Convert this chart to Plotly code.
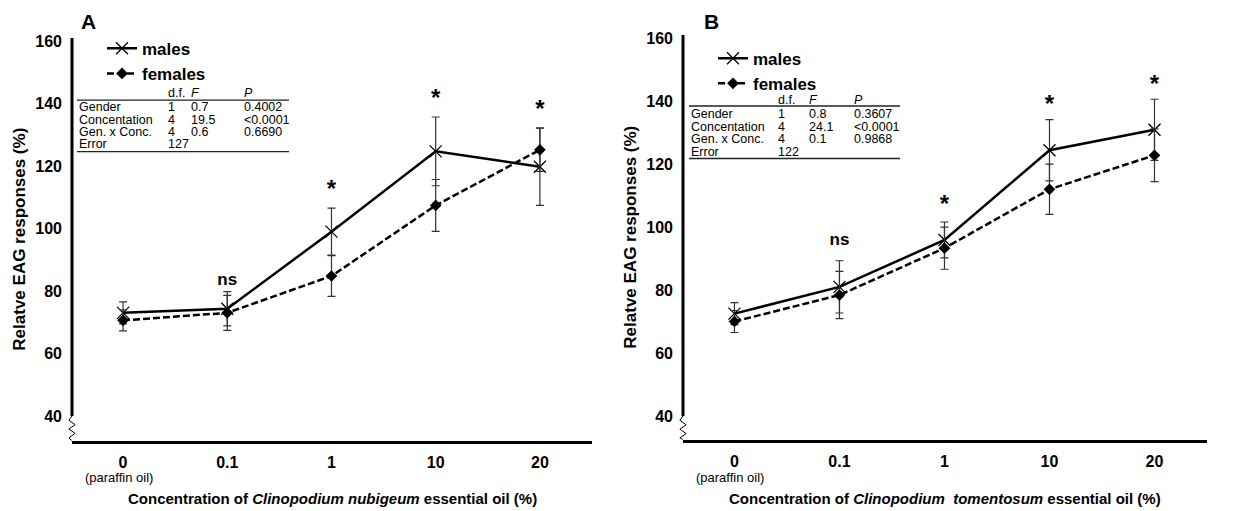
import plotly.graph_objects as go

W, H = 1233, 511

categories = ["0", "0.1", "1", "10", "20"]
cat_idx = [0, 1, 2, 3, 4]
y_ticks = [40, 60, 80, 100, 120, 140, 160]

# Panel A (Clinopodium nubigeum)
males_A = [73.0, 74.3, 99.0, 124.7, 119.8]
males_A_err = [3.5, 5.5, 7.5, 11.0, 12.4]
females_A = [70.6, 73.0, 84.8, 107.4, 125.2]
females_A_err = [3.4, 5.6, 6.5, 8.3, 6.9]
sig_A = ["", "ns", "*", "*", "*"]
sig_A_y = [None, 83.4, 112.0, 141.0, 137.5]

# Panel B (Clinopodium tomentosum)
males_B = [72.5, 81.0, 95.9, 124.4, 130.9]
males_B_err = [3.5, 8.3, 5.7, 9.7, 9.7]
females_B = [70.0, 78.4, 93.3, 112.0, 122.8]
females_B_err = [3.5, 7.5, 6.7, 8.0, 8.4]
sig_B = ["", "ns", "*", "*", "*"]
sig_B_y = [None, 95.5, 106.7, 138.5, 144.7]

# ANOVA tables
tab_rows = ["Gender", "Concentation", "Gen. x Conc.", "Error"]
tab_df_A = ["1", "4", "4", "127"]
tab_F_A = ["0.7", "19.5", "0.6", ""]
tab_P_A = ["0.4002", "<0.0001", "0.6690", ""]
tab_df_B = ["1", "4", "4", "122"]
tab_F_B = ["0.8", "24.1", "0.1", ""]
tab_P_B = ["0.3607", "<0.0001", "0.9868", ""]

FONT = "Liberation Sans, Arial, sans-serif"

fig = go.Figure()

def add_panel(sfx, males, merr, females, ferr, sig, sig_y, legend):
    xa, ya = "x" + sfx, "y" + sfx
    fig.add_trace(go.Scatter(
        x=cat_idx, y=males, mode="lines+markers", name="males",
        xaxis=xa, yaxis=ya, legend=legend,
        line=dict(color="black", width=2.5),
        marker=dict(symbol="x-thin", size=12, line=dict(color="black", width=1.3)),
        error_y=dict(type="data", array=merr, visible=True, color="#333333",
                     thickness=1.2, width=4),
    ))
    fig.add_trace(go.Scatter(
        x=cat_idx, y=females, mode="lines+markers", name="females",
        xaxis=xa, yaxis=ya, legend=legend,
        line=dict(color="black", width=2.5, dash="7px,3px"),
        marker=dict(symbol="diamond", size=9, color="black"),
        error_y=dict(type="data", array=ferr, visible=True, color="#333333",
                     thickness=1.2, width=4),
    ))
    xs = [i for i, s in zip(cat_idx, sig) if s]
    ys = [v for v, s in zip(sig_y, sig) if s]
    ts = [s for s in sig if s]
    sizes = [17 if t == "ns" else 24 for t in ts]
    fig.add_trace(go.Scatter(
        x=xs, y=ys, mode="text", text=["<b>%s</b>" % t for t in ts],
        textposition="middle center", showlegend=False, hoverinfo="skip",
        textfont=dict(family=FONT, size=sizes, color="black"),
        xaxis=xa, yaxis=ya,
    ))

add_panel("", males_A, males_A_err, females_A, females_A_err, sig_A, sig_A_y, "legend")
add_panel("2", males_B, males_B_err, females_B, females_B_err, sig_B, sig_B_y, "legend2")

def px_x(p):
    return p / W

def px_y(p):
    return 1 - p / H

panels = {
    "": dict(x0=72, x1=592, ytop=33, ybot=440, yrange=[32.07, 161.1],
             title="Concentration of <i>Clinopodium nubigeum</i> essential oil (%)"),
    "2": dict(x0=683, x1=1207, ytop=30, ybot=439, yrange=[32.45, 161.1],
              title="Concentration of <i>Clinopodium  tomentosum</i> essential oil (%)"),
}

layout = dict(
    width=W, height=H, margin=dict(l=0, r=0, t=0, b=0),
    paper_bgcolor="white", plot_bgcolor="white",
    font=dict(family=FONT, color="black"),
    showlegend=True,
    shapes=[], annotations=[],
)

for sfx, p in panels.items():
    layout["xaxis" + sfx] = dict(
        domain=[px_x(p["x0"]), px_x(p["x1"])], range=[-0.49, 4.5],
        tickvals=cat_idx, ticktext=categories, ticks="", showgrid=False, zeroline=False,
        showline=True, linewidth=3, linecolor="black", anchor="y" + sfx,
        tickfont=dict(family=FONT, size=16, color="black", weight="bold"),
        ticklabelstandoff=5,
    )
    layout["yaxis" + sfx] = dict(
        domain=[px_y(p["ybot"]), px_y(p["ytop"])], range=p["yrange"],
        tickvals=y_ticks, ticks="", showgrid=False, zeroline=False, showline=False,
        anchor="x" + sfx, ticklabelstandoff=9,
        tickfont=dict(family=FONT, size=16, color="black", weight="bold"),
        title=dict(text="Relatve EAG responses (%)", standoff=5,
                   font=dict(family=FONT, size=17, color="black", weight="bold")),
    )
    xd = "x" + sfx + " domain" if sfx else "x domain"
    xr = "x" + sfx
    yr = "y" + sfx
    # y axis line from 40 to top
    layout["shapes"].append(dict(type="line", xref=xd, yref=yr, x0=0, x1=0,
                                 y0=40, y1=p["yrange"][1], line=dict(color="black", width=3)))
    # axis break squiggle
    lo = p["yrange"][0]
    steps = [40, 38.6, 37.2, 35.8, 34.4, 33.0, lo]
    offs = [0, -0.006, 0.006, -0.006, 0.006, -0.006, 0]
    path = "M " + " L ".join("%g,%g" % (o, s) for o, s in zip(offs, steps))
    layout["shapes"].append(dict(type="path", xref=xd, yref=yr, path=path,
                                 line=dict(color="black", width=1)))
    # "(paraffin oil)" under the 0 tick
    layout["annotations"].append(dict(
        xref=xr, yref="paper", x=cat_idx[0] - 0.04, y=px_y(477), text="(paraffin oil)",
        showarrow=False, xanchor="center", yanchor="middle",
        font=dict(family=FONT, size=13, color="black")))
    layout["annotations"].append(dict(
        xref=xd, yref="paper", x=0.5, y=px_y(498), text="<b>" + p["title"] + "</b>",
        showarrow=False, xanchor="center", yanchor="middle",
        font=dict(family=FONT, size=15, color="black")))

# panel letters
for letter, xp in (("A", 88), ("B", 711)):
    layout["annotations"].append(dict(
        xref="paper", yref="paper", x=px_x(xp), y=px_y(17), text="<b>%s</b>" % letter,
        showarrow=False, xanchor="center", yanchor="middle",
        font=dict(family=FONT, size=21, color="black")))

# legends
for key, xp, yp in (("legend", 102, 26), ("legend2", 713, 36)):
    layout[key] = dict(
        x=px_x(xp), y=px_y(yp), xanchor="left", yanchor="top",
        xref="paper", yref="paper", bgcolor="rgba(0,0,0,0)",
        font=dict(family=FONT, size=17, color="black", weight="bold"),
        itemwidth=30, tracegroupgap=0, traceorder="normal",
    )

# ANOVA tables
def add_table(x_lab, x_df, x_F, x_P, y_head, y_rows, y_top, y_bot, x_end, dfs, Fs, Ps):
    fnt = dict(family=FONT, size=12.5, color="black")
    hdr = [(x_df, "d.f."), (x_F, "<i>F</i>"), (x_P, "<i>P</i>")]
    for xx, t in hdr:
        layout["annotations"].append(dict(xref="paper", yref="paper", x=px_x(xx), y=px_y(y_head),
                                          text=t, showarrow=False, xanchor="left",
                                          yanchor="middle", font=fnt))
    for r, yy in enumerate(y_rows):
        for xx, t in ((x_lab, tab_rows[r]), (x_df, dfs[r]), (x_F, Fs[r]), (x_P, Ps[r])):
            if not t:
                continue
            layout["annotations"].append(dict(xref="paper", yref="paper", x=px_x(xx),
                                              y=px_y(yy), text=t, showarrow=False,
                                              xanchor="left", yanchor="middle", font=fnt))
    for yy in (y_top, y_bot):
        layout["shapes"].append(dict(type="line", xref="paper", yref="paper",
                                     x0=px_x(x_lab), x1=px_x(x_end), y0=px_y(yy), y1=px_y(yy),
                                     line=dict(color="#222222", width=1.3)))

add_table(77, 166, 189, 242, 89, [103, 116, 128, 140], 96, 148, 289,
          tab_df_A, tab_F_A, tab_P_A)
add_table(689, 776, 807, 852, 96, [110, 123, 135, 148], 102, 155, 900,
          tab_df_B, tab_F_B, tab_P_B)

fig.update_layout(**layout)
fig.write_html("out.html")
